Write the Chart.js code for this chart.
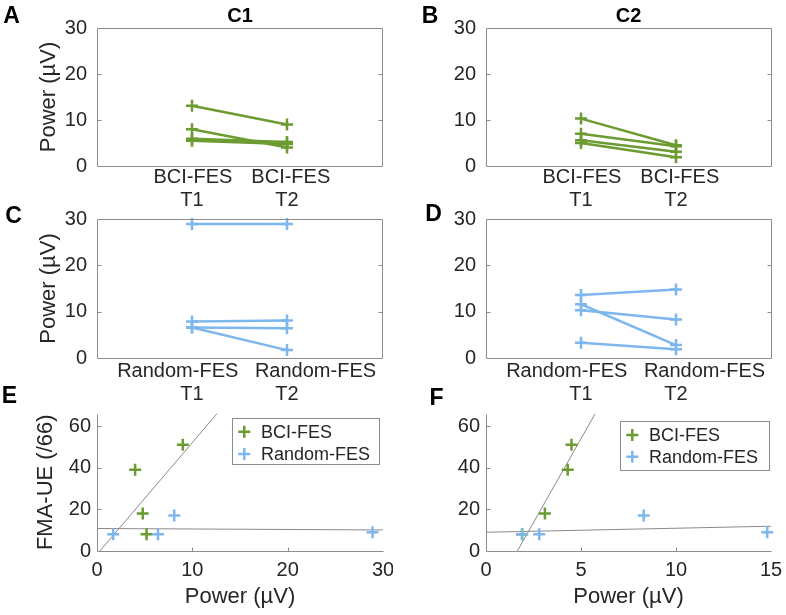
<!DOCTYPE html>
<html>
<head>
<meta charset="utf-8">
<script src="https://cdn.jsdelivr.net/npm/chart.js@4.4.0/dist/chart.umd.min.js"></script>
<style>
    body { margin: 0; background: #fff; width: 786px; height: 615px; position: relative; overflow: hidden;
           font-family: "Liberation Sans", Arial, Helvetica, sans-serif; }
    .panel { position: absolute; }
    .lbl { position: absolute; transform: translate(-50%, -50%); font-weight: bold; color: #000; line-height: 1; white-space: nowrap; }
</style>
</head>
<body>
<div class="panel" style="left:0;top:0;width:393px;height:212px"><canvas id="chartA"></canvas></div>
<div class="panel" style="left:393px;top:0;width:393px;height:212px"><canvas id="chartB"></canvas></div>
<div class="panel" style="left:0;top:206px;width:393px;height:199px"><canvas id="chartC"></canvas></div>
<div class="panel" style="left:393px;top:206px;width:393px;height:199px"><canvas id="chartD"></canvas></div>
<div class="panel" style="left:0;top:405px;width:393px;height:210px"><canvas id="chartE"></canvas></div>
<div class="panel" style="left:393px;top:405px;width:393px;height:210px"><canvas id="chartF"></canvas></div>

<div class="lbl" style="left:11.5px;top:15px;font-size:23px">A</div>
<div class="lbl" style="left:430px;top:15px;font-size:23px">B</div>
<div class="lbl" style="left:13.5px;top:215px;font-size:23px">C</div>
<div class="lbl" style="left:433.5px;top:213px;font-size:23px">D</div>
<div class="lbl" style="left:9.5px;top:395px;font-size:23px">E</div>
<div class="lbl" style="left:436.5px;top:397px;font-size:23px">F</div>
<div class="lbl" style="left:240px;top:15px;font-size:20px">C1</div>
<div class="lbl" style="left:628.5px;top:15px;font-size:20px">C2</div>

<script>
// Time points (categories; blank slots pad the axis ends)
const timeLabels = ['', 'T1', 'T2', ''];
// Group names written above the time points
const bciNames = ['BCI-FES', 'BCI-FES'];
const randNames = ['Random-FES', 'Random-FES'];

// Power (µV), one entry per patient
const c1BciT1 = [13.1, 8.0, 5.9, 5.5];
const c1BciT2 = [9.0, 4.0, 5.2, 4.8];
const c2BciT1 = [10.3, 7.0, 5.0, 5.6];
const c2BciT2 = [4.5, 4.3, 1.9, 3.1];
const c1RandT1 = [28.9, 7.9, 6.6, 6.6];
const c1RandT2 = [28.9, 8.1, 6.4, 1.7];
const c2RandT1 = [13.6, 10.3, 11.6, 3.3];
const c2RandT2 = [14.8, 8.3, 2.8, 1.9];

// FMA-UE score (/66), same patient order
const bciFma = [51, 39, 8, 18];
const randFma = [9, 17, 8, 8];

// Fitted lines, end points [power, FMA-UE]
const fitC1Bci = [[0.3, 0], [12.6, 66]];
const fitC1Rand = [[0, 10.8], [30, 10.1]];
const fitC2Bci = [[1.65, 0], [5.75, 66]];
const fitC2Rand = [[0, 9.0], [15, 11.9]];

const FONT = '"Liberation Sans", Arial, Helvetica, sans-serif';
const TEXT = '#262626';
const AXIS = '#8c8c8c';
const GREEN = '#6b9b31';
const BLUE = '#7db7ee';

Chart.defaults.font.family = FONT;
Chart.defaults.color = TEXT;

// Box frame and inward ticks, MATLAB style
const matlabAxes = {
    id: 'matlabAxes',
    afterDatasetsDraw(chart, args, opts) {
        const { ctx, chartArea: a, scales } = chart;
        ctx.save();
        ctx.strokeStyle = AXIS;
        ctx.lineWidth = 1;
        ctx.beginPath();
        const L = Math.round(a.left) + 0.5, R = Math.round(a.right) + 0.5;
        const T = Math.round(a.top) + 0.5, B = Math.round(a.bottom) + 0.5;
        if (opts.box) {
            ctx.rect(L, T, R - L, B - T);
        } else {
            ctx.moveTo(L, T);
            ctx.lineTo(L, B);
            ctx.lineTo(R, B);
        }
        const y = scales.y;
        y.ticks.forEach(t => {
            if (t.value <= y.min || t.value >= y.max) return;
            const py = Math.round(y.getPixelForValue(t.value)) + 0.5;
            ctx.moveTo(L, py); ctx.lineTo(L + 4, py);
            if (opts.box) { ctx.moveTo(R, py); ctx.lineTo(R - 4, py); }
        });
        const x = scales.x;
        if (x.type === 'linear') {
            x.ticks.forEach(t => {
                if (t.value <= x.min || t.value >= x.max) return;
                const px = Math.round(x.getPixelForValue(t.value)) + 0.5;
                ctx.moveTo(px, B); ctx.lineTo(px, B - 4);
            });
        }
        ctx.stroke();
        ctx.restore();
    }
};

// Legend box drawn inside the plot
const boxLegend = {
    id: 'boxLegend',
    afterDraw(chart, args, opts) {
        if (!opts.items) return;
        const ctx = chart.ctx;
        ctx.save();
        ctx.fillStyle = '#fff';
        ctx.fillRect(opts.x, opts.y, opts.w, opts.h);
        ctx.strokeStyle = AXIS;
        ctx.lineWidth = 1;
        ctx.strokeRect(Math.round(opts.x) + 0.5, Math.round(opts.y) + 0.5, Math.round(opts.w), Math.round(opts.h));
        ctx.font = '18px ' + FONT;
        ctx.textBaseline = 'middle';
        opts.items.forEach((label, i) => {
            const ds = chart.data.datasets.find(d => d.label === label);
            const cy = opts.rows[i];
            ctx.strokeStyle = ds.borderColor;
            ctx.lineWidth = 2.5;
            ctx.beginPath();
            ctx.moveTo(opts.markerX - 6, cy); ctx.lineTo(opts.markerX + 6, cy);
            ctx.moveTo(opts.markerX, cy - 6); ctx.lineTo(opts.markerX, cy + 6);
            ctx.stroke();
            ctx.fillStyle = TEXT;
            ctx.fillText(label, opts.textX, cy + 1);
        });
        ctx.restore();
    }
};

function fixSize(width, height) {
    return function(scale) {
        if (width !== null) scale.width = width;
        if (height !== null) scale.height = height;
        scale.paddingTop = 0;
        scale.paddingBottom = 0;
        scale.paddingLeft = 0;
        scale.paddingRight = 0;
    };
}

// Panels A-D: T1 -> T2 power for each patient
function pairChart(id, names, namePos, t1, t2, color, g) {
    const datasets = t1.map((v, i) => ({
        data: [null, v, t2[i], null],
        xAxisID: 'x',
        yAxisID: 'y',
        borderColor: color,
        backgroundColor: color,
        borderWidth: 2.5,
        pointStyle: 'cross',
        pointRadius: 6,
        pointHoverRadius: 6,
        pointBorderWidth: 2.5,
        clip: false
    }));
    const tickFont = { size: 20, lineHeight: 1.15 };
    return new Chart(document.getElementById(id), {
        type: 'line',
        data: { labels: timeLabels, datasets: datasets },
        options: {
            responsive: true,
            maintainAspectRatio: false,
            animation: false,
            layout: { padding: { top: g.top, right: g.right, left: 0, bottom: 0 } },
            plugins: {
                legend: { display: false },
                tooltip: { enabled: false },
                matlabAxes: { box: true }
            },
            scales: {
                x: {
                    position: 'bottom',
                    weight: 1,
                    offset: false,
                    grid: { display: false, drawTicks: false },
                    border: { display: false },
                    ticks: { font: tickFont, padding: g.timePad, maxRotation: 0, autoSkip: false, color: TEXT },
                    afterFit: fixSize(null, g.timeH)
                },
                names: {
                    type: 'linear',
                    position: 'bottom',
                    weight: 0,
                    min: 0,
                    max: 3,
                    grid: { display: false, drawTicks: false },
                    border: { display: false },
                    afterBuildTicks: s => { s.ticks = namePos.map(v => ({ value: v })); },
                    ticks: { font: tickFont, padding: g.namePad, maxRotation: 0, autoSkip: false, color: TEXT,
                             callback: (v, i) => names[i] },
                    afterFit: fixSize(null, g.nameH)
                },
                y: {
                    min: 0,
                    max: 30,
                    grid: { display: false, drawTicks: false },
                    border: { display: false },
                    ticks: { stepSize: 10, font: { size: 20 }, padding: 10, color: TEXT },
                    title: {
                        display: !!g.yTitle,
                        text: g.yTitle || '',
                        font: { size: 22, lineHeight: 1.2 },
                        color: TEXT,
                        padding: { top: 36, bottom: 0 }
                    },
                    afterFit: fixSize(g.yW, null)
                }
            }
        },
        plugins: [matlabAxes]
    });
}

// Panels E-F: FMA-UE vs T2 power
function scatterChart(id, bciPower, randPower, fitBci, fitRand, xMax, xStep, g) {
    const pts = (xs, ys) => xs.map((x, i) => ({ x: x, y: ys[i] }));
    const line = p => p.map(q => ({ x: q[0], y: q[1] }));
    const cross = {
        showLine: false, pointStyle: 'cross', pointRadius: 6, pointHoverRadius: 6,
        pointBorderWidth: 2.5, clip: false
    };
    const fit = {
        showLine: true, borderColor: '#8a8a8a', borderWidth: 1, pointRadius: 0, pointHoverRadius: 0, order: 3
    };
    return new Chart(document.getElementById(id), {
        type: 'scatter',
        data: {
            datasets: [
                Object.assign({ label: 'Random-FES', data: pts(randPower, randFma), borderColor: BLUE, backgroundColor: BLUE, order: 1 }, cross),
                Object.assign({ label: 'BCI-FES', data: pts(bciPower, bciFma), borderColor: GREEN, backgroundColor: GREEN, order: 2 }, cross),
                Object.assign({ label: 'fit BCI', data: line(fitBci) }, fit),
                Object.assign({ label: 'fit Random', data: line(fitRand) }, fit)
            ]
        },
        options: {
            responsive: true,
            maintainAspectRatio: false,
            animation: false,
            layout: { padding: { top: g.top, right: g.right, left: 0, bottom: 0 } },
            plugins: {
                legend: { display: false },
                tooltip: { enabled: false },
                matlabAxes: { box: false },
                boxLegend: g.legend
            },
            scales: {
                x: {
                    type: 'linear',
                    min: 0,
                    max: xMax,
                    grid: { display: false, drawTicks: false },
                    border: { display: false },
                    ticks: { stepSize: xStep, font: { size: 20, lineHeight: 1.15 }, padding: 8, maxRotation: 0, color: TEXT },
                    title: {
                        display: true,
                        text: 'Power (µV)',
                        font: { size: 22, lineHeight: 1.2 },
                        color: TEXT,
                        padding: { top: 0, bottom: 5 }
                    },
                    afterFit: fixSize(null, 64)
                },
                y: {
                    min: 0,
                    max: 66,
                    grid: { display: false, drawTicks: false },
                    border: { display: false },
                    ticks: { stepSize: 20, includeBounds: false, font: { size: 20 }, padding: 6, color: TEXT },
                    title: {
                        display: !!g.yTitle,
                        text: g.yTitle || '',
                        font: { size: 22, lineHeight: 1.2 },
                        color: TEXT,
                        padding: { top: 33, bottom: 0 }
                    },
                    afterFit: fixSize(g.yW, null)
                }
            }
        },
        plugins: [matlabAxes, boxLegend]
    });
}

// where the group names sit along the 0..3 category axis
const bciNamePos = [1.01, 2.04];
const randNamePos = [0.85, 2.30];

pairChart('chartA', bciNames, bciNamePos, c1BciT1, c1BciT2, GREEN,
    { top: 28, right: 11, yW: 97, nameH: 22, namePad: 0, timeH: 24, timePad: 1, yTitle: 'Power (µV)' });
pairChart('chartB', bciNames, bciNamePos, c2BciT1, c2BciT2, GREEN,
    { top: 28, right: 15, yW: 93, nameH: 22, namePad: 0, timeH: 24, timePad: 1 });
pairChart('chartC', randNames, randNamePos, c1RandT1, c1RandT2, BLUE,
    { top: 13, right: 11, yW: 97, nameH: 24, namePad: 2, timeH: 23, timePad: 1, yTitle: 'Power (µV)' });
pairChart('chartD', randNames, randNamePos, c2RandT1, c2RandT2, BLUE,
    { top: 13, right: 15, yW: 93, nameH: 24, namePad: 2, timeH: 23, timePad: 1 });

scatterChart('chartE', c1BciT2, c1RandT2, fitC1Bci, fitC1Rand, 30, 10, {
    top: 8, right: 10, yW: 97, yTitle: 'FMA-UE (/66)',
    legend: { items: ['BCI-FES', 'Random-FES'], x: 231.7, y: 12.7, w: 147.3, h: 45.6, markerX: 244.3, textX: 261, rows: [26.7, 49] }
});
scatterChart('chartF', c2BciT2, c2RandT2, fitC2Bci, fitC2Rand, 15, 5, {
    top: 8, right: 15, yW: 93,
    legend: { items: ['BCI-FES', 'Random-FES'], x: 226.7, y: 15.7, w: 149, h: 48.6, markerX: 239.3, textX: 256, rows: [30, 51.7] }
});
</script>
</body>
</html>
